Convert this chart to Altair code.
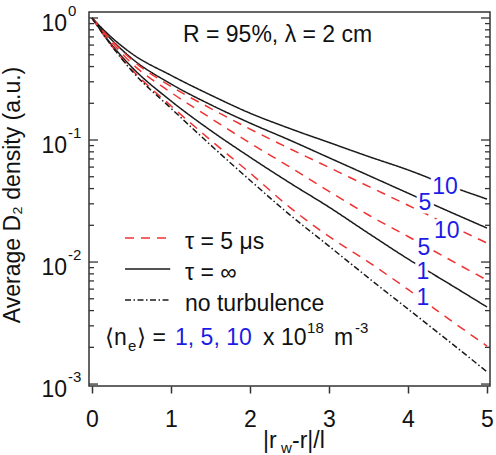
import altair as alt
import pandas as pd

# Normalised distance from the wall
x_pos = [0, 0.25, 0.5, 1, 1.5, 2, 2.5, 3, 3.5, 4, 4.5, 5]

# Average D2 density, tau = infinity, <ne> = 10, 5, 1 x 1e18 m^-3
inf_10 = [1.0, 0.692, 0.513, 0.339, 0.234, 0.166, 0.1245, 0.0955, 0.0733, 0.0569, 0.0427, 0.0328]
inf_5 = [1.0, 0.661, 0.468, 0.288, 0.195, 0.1377, 0.100, 0.0716, 0.0513, 0.0367, 0.0263, 0.0190]
inf_1 = [1.0, 0.603, 0.398, 0.209, 0.120, 0.0724, 0.0447, 0.0282, 0.0172, 0.0106, 0.00676, 0.00428]
# tau = 5 us
tau_10 = [1.0, 0.653, 0.457, 0.275, 0.182, 0.123, 0.0851, 0.0596, 0.0417, 0.0292, 0.0204, 0.0143]
tau_5 = [1.0, 0.631, 0.427, 0.2455, 0.1514, 0.0944, 0.0603, 0.0380, 0.0243, 0.0162, 0.0107, 0.00711]
tau_1 = [1.0, 0.589, 0.380, 0.1905, 0.100, 0.0537, 0.0282, 0.0162, 0.0100, 0.00596, 0.00347, 0.00205]
# no turbulence
no_turb = [1.0, 0.589, 0.3715, 0.182, 0.0912, 0.0468, 0.0245, 0.0135, 0.00741, 0.00412, 0.00229, 0.00126]

series_keys = ["inf10", "inf5", "inf1", "tau10", "tau5", "tau1", "none"]
series_vals = [inf_10, inf_5, inf_1, tau_10, tau_5, tau_1, no_turb]

BLACK = "#1a1a1a"
RED = "#f03232"
BLUE = "#1c1ce6"
FONT = "Liberation Sans"

series_colors = [BLACK, BLACK, BLACK, RED, RED, RED, BLACK]
series_dash = [[1, 0], [1, 0], [1, 0], [9, 7], [9, 7], [9, 7], [6, 2.5, 1.5, 2.5]]
series_width = [1.5, 1.5, 1.5, 2, 2, 2, 1.3]

# Curve labels (electron density)
curve_label_text = ["10", "5", "10", "5", "1", "1"]
curve_label_x = [4.47, 4.215, 4.49, 4.20, 4.19, 4.19]
curve_label_y = [0.0420, 0.0310, 0.01828, 0.01327, 0.00844, 0.00516]

# Legend entries
legend_keys = ["tau5", "inf10", "none"]
legend_text = ["\u03c4 = 5 \u03bcs", "\u03c4 = \u221e", "no turbulence"]
legend_y = [0.01574, 0.00877, 0.00488]

# Log-axis ticks
major_ticks = [1, 0.1, 0.01, 0.001]
major_exp = ["0", "-1", "-2", "-3"]
minor_ticks = [f * s for s in (0.001, 0.01, 0.1) for f in range(2, 10)]

W, H = 401, 374

x_scale = alt.Scale(domain=[-0.038, 5.038], nice=False, zero=False)
y_scale = alt.Scale(type="log", domain=[0.000964, 1.12], nice=False)
x_axis = alt.Axis(values=[0, 1, 2, 3, 4, 5], format="d", title=None, grid=False,
                  domain=False, tickSize=7, tickWidth=1.5, tickColor="#333",
                  labelFontSize=23, labelFont=FONT, labelColor="#111",
                  labelPadding=15, labelFlush=False)

style_color = alt.Scale(domain=series_keys, range=series_colors)
style_dash = alt.Scale(domain=series_keys, range=series_dash)
style_width = alt.Scale(domain=series_keys, range=series_width)

rows = []
for key, vals in zip(series_keys, series_vals):
    for xv, yv in zip(x_pos, vals):
        rows.append({"x": xv, "v": yv, "series": key})
curves_df = pd.DataFrame(rows)


def xenc(field):
    return alt.X(field, scale=x_scale, axis=x_axis)


def yenc(field):
    return alt.Y(field, scale=y_scale, axis=None)


curves = alt.Chart(curves_df).mark_line(interpolate="monotone").encode(
    x=xenc("x:Q"),
    y=yenc("v:Q"),
    detail="series:N",
    color=alt.Color("series:N", scale=style_color, legend=None),
    strokeDash=alt.StrokeDash("series:N", scale=style_dash, legend=None),
    strokeWidth=alt.StrokeWidth("series:N", scale=style_width, legend=None),
)

# Legend samples
leg_df = pd.DataFrame({"x0": [0.418] * 3, "x1": [0.99] * 3, "y": legend_y,
                       "series": legend_keys, "t": legend_text,
                       "tx": [1.177] * 3})
leg_lines = alt.Chart(leg_df).mark_rule().encode(
    x=xenc("x0:Q"), x2="x1:Q", y=yenc("y:Q"),
    color=alt.Color("series:N", scale=style_color, legend=None),
    strokeDash=alt.StrokeDash("series:N", scale=style_dash, legend=None),
    strokeWidth=alt.StrokeWidth("series:N", scale=style_width, legend=None),
)
leg_text = alt.Chart(leg_df).mark_text(
    align="left", baseline="middle", dy=4, font=FONT, fontSize=23, color="#111"
).encode(x=xenc("tx:Q"), y=yenc("y:Q"), text="t:N")

# Curve labels with a white halo that breaks the lines underneath
lab_df = pd.DataFrame({"x": curve_label_x, "y": curve_label_y, "t": curve_label_text})
lab_halo = alt.Chart(lab_df).mark_text(
    align="center", baseline="middle", dy=1, font=FONT, fontSize=23,
    fill="white", stroke="white", strokeWidth=7
).encode(x=xenc("x:Q"), y=yenc("y:Q"), text="t:N")
lab_text = alt.Chart(lab_df).mark_text(
    align="center", baseline="middle", dy=1, font=FONT, fontSize=23, color=BLUE
).encode(x=xenc("x:Q"), y=yenc("y:Q"), text="t:N")


def note(text, x, y, dx=0, dy=0, size=23, color="#111"):
    df = pd.DataFrame({"x": [x], "y": [y], "t": [text]})
    return alt.Chart(df).mark_text(
        align="left", baseline="alphabetic", dx=dx, dy=dy,
        font=FONT, fontSize=size, color=color
    ).encode(x=xenc("x:Q"), y=yenc("y:Q"), text="t:N")


title_note = note("R = 95%, \u03bb = 2 cm", 1.152, 0.636)

NE_X, NE_Y = 0.165, 0.00209
ne_parts = [
    note("\u27e8n", NE_X, NE_Y),
    note("e", NE_X, NE_Y, dx=23, dy=6, size=15),
    note("\u27e9 =", NE_X, NE_Y, dx=32),
    note("1, 5, 10", NE_X, NE_Y, dx=70, color=BLUE),
    note("x 10", NE_X, NE_Y, dx=158),
    note("18", NE_X, NE_Y, dx=202, dy=-12, size=15),
    note("m", NE_X, NE_Y, dx=229),
    note("-3", NE_X, NE_Y, dx=250, dy=-12, size=15),
]

# Y axis: inward ticks on both sides, labels as 10^k
maj_df = pd.DataFrame({"v": major_ticks, "e": major_exp, "b": ["10"] * 4})
min_df = pd.DataFrame({"v": minor_ticks})
tick_layers = []
for df, length in ((maj_df, 9), (min_df, 5)):
    tick_layers.append(alt.Chart(df).mark_rule(color="#333", strokeWidth=1.3).encode(
        y=yenc("v:Q"), x=alt.value(0), x2=alt.value(length)))
    tick_layers.append(alt.Chart(df).mark_rule(color="#333", strokeWidth=1.3).encode(
        y=yenc("v:Q"), x=alt.value(W - length), x2=alt.value(W)))

ylab_base = alt.Chart(maj_df).mark_text(
    align="right", baseline="alphabetic", dy=13, font=FONT, fontSize=23, color="#111"
).encode(y=yenc("v:Q"), x=alt.value(-22), text="b:N")
ylab_exp = alt.Chart(maj_df).mark_text(
    align="left", baseline="alphabetic", dy=-2, font=FONT, fontSize=15, color="#111"
).encode(y=yenc("v:Q"), x=alt.value(-21), text="e:N")

# Axis titles
one = pd.DataFrame({"t": ["Average D\u2082 density (a.u.)"]})
ytitle = alt.Chart(one).mark_text(
    angle=270, align="center", baseline="alphabetic", font=FONT, fontSize=23, color="#111"
).encode(x=alt.value(-69), y=alt.value(183), text="t:N")


def xtitle_part(text, px, py, size):
    df = pd.DataFrame({"t": [text]})
    return alt.Chart(df).mark_text(
        align="left", baseline="alphabetic", font=FONT, fontSize=size, color="#111"
    ).encode(x=alt.value(px), y=alt.value(py), text="t:N")


xtitle = [
    xtitle_part("|r", 174, 436, 23),
    xtitle_part("w", 192, 441, 15),
    xtitle_part("-r|/l", 203, 436, 23),
]

chart = alt.layer(
    curves, *tick_layers, leg_lines, leg_text, lab_halo, lab_text, title_note,
    *ne_parts, ylab_base, ylab_exp, ytitle, *xtitle
).properties(
    width=W, height=H,
    autosize=alt.AutoSizeParams(type="none"),
    padding={"left": 89, "top": 12, "right": 6, "bottom": 69},
).configure_view(stroke="#333", strokeWidth=1.5)

chart.save("out.html", embed_options={"renderer": "svg", "actions": False})
